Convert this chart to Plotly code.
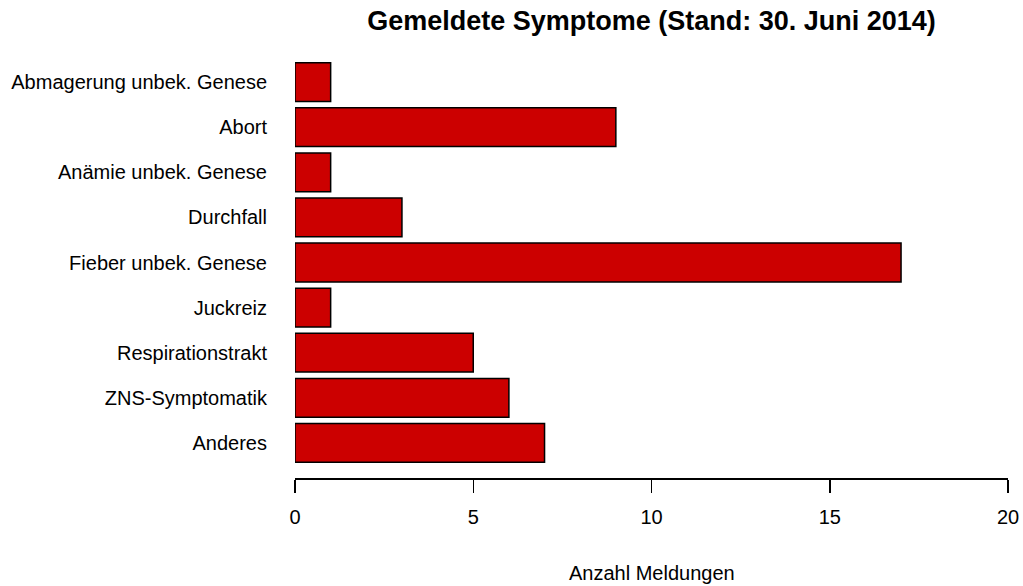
import plotly.graph_objects as go

categories = ["Abmagerung unbek. Genese", "Abort", "Anämie unbek. Genese", "Durchfall",
              "Fieber unbek. Genese", "Juckreiz", "Respirationstrakt", "ZNS-Symptomatik", "Anderes"]
values = [1, 9, 1, 3, 17, 1, 5, 6, 7]
x_ticks = [0, 5, 10, 15, 20]

FONT = "Liberation Sans, Arial, sans-serif"

W, H = 1023, 586
L, R, T, B = 295, 15, 47, 108
PLOT_H = H - T - B

fig = go.Figure(go.Bar(
    x=values, y=categories, orientation="h",
    marker=dict(color="#CC0000", line=dict(color="black", width=1.5)),
))

fig.update_layout(
    width=W, height=H,
    margin=dict(l=L, r=R, t=T, b=B, autoexpand=False),
    paper_bgcolor="white", plot_bgcolor="white",
    bargap=0.14,
    showlegend=False,
    font=dict(family=FONT, color="black", size=20),
    title=dict(text="<b>Gemeldete Symptome (Stand: 30. Juni 2014)</b>",
               x=0.5, xref="paper", xanchor="center",
               yref="container", y=(H - 21) / H, yanchor="middle",
               font=dict(family=FONT, size=27, color="black")),
    annotations=[dict(text="Anzahl Meldungen", x=0.5, xref="paper", xanchor="center",
                      y=-95 / PLOT_H, yref="paper", yanchor="middle",
                      showarrow=False, font=dict(family=FONT, size=20, color="black"))],
)
fig.update_xaxes(
    range=[0, 20], tickvals=x_ticks, ticktext=[str(v) for v in x_ticks],
    automargin=False,
    showgrid=False, zeroline=False, showline=True, linecolor="black", linewidth=1.5,
    ticks="outside", ticklen=13, tickwidth=1.5, tickcolor="black",
    ticklabelstandoff=7,
)
fig.update_yaxes(
    categoryorder="array", categoryarray=categories,
    range=[len(categories) - 1 + 0.777, -0.777],
    automargin=False,
    showgrid=False, zeroline=False, showline=False, ticks="",
    ticklabelstandoff=27,
)

fig.write_html("out.html",
               config={"displayModeBar": False, "staticPlot": True},
               post_script="document.body.style.margin='0';document.body.style.overflow='hidden';")
